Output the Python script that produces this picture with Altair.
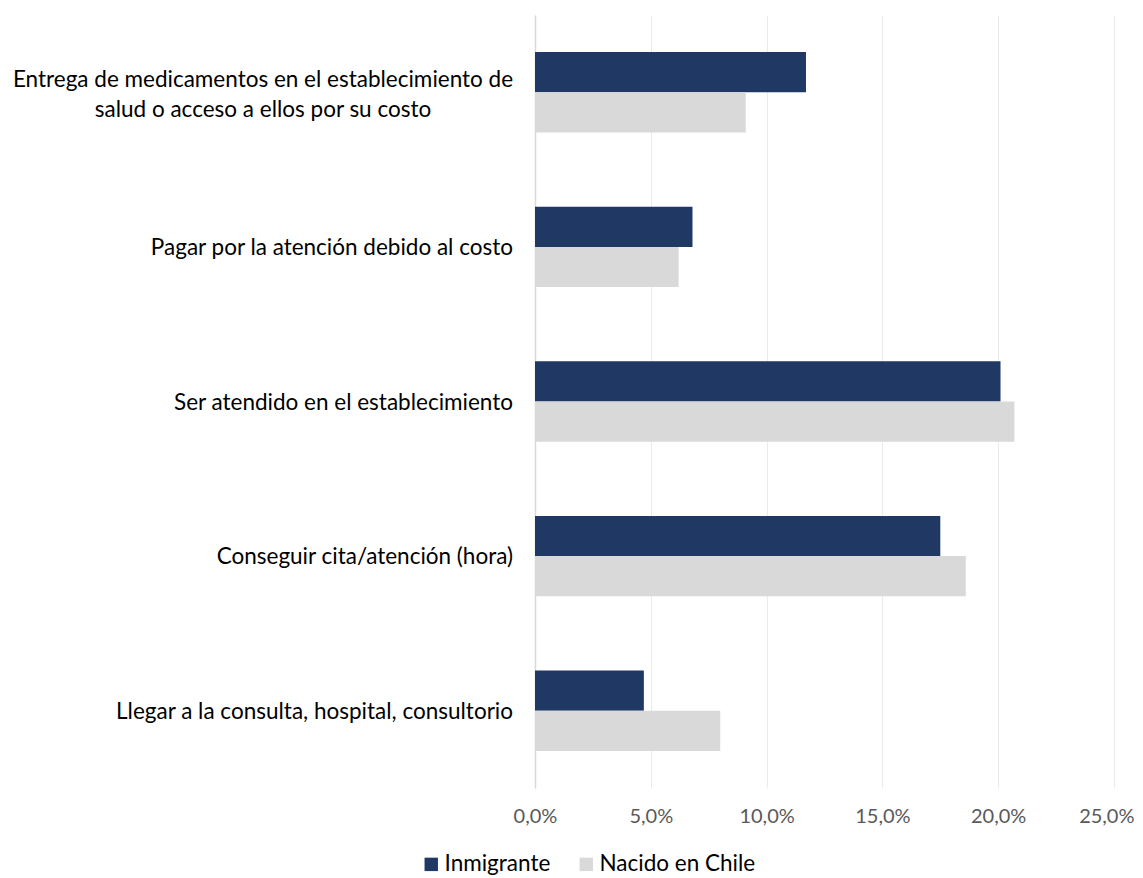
import altair as alt
import pandas as pd

categories = [
    "Entrega de medicamentos en el establecimiento de\nsalud o acceso a ellos por su costo",
    "Pagar por la atención debido al costo",
    "Ser atendido en el establecimiento",
    "Conseguir cita/atención (hora)",
    "Llegar a la consulta, hospital, consultorio",
]
series = ["Inmigrante", "Nacido en Chile"]
inmigrante = [11.7, 6.8, 20.1, 17.5, 4.7]
nacido = [9.1, 6.2, 20.7, 18.6, 8.0]
centered = [True, False, False, False, False]

colors = ["#203864", "#D9D9D9"]
FONT = "Lato"

rows = []
for c, a, b in zip(categories, inmigrante, nacido):
    rows.append({"cat": c, "serie": series[0], "val": a})
    rows.append({"cat": c, "serie": series[1], "val": b})
df = pd.DataFrame(rows)
lab = pd.DataFrame({"cat": categories, "centered": centered})

yscale = alt.Scale(domain=categories, paddingInner=0.48, paddingOuter=0.24)

bars = alt.Chart(df).mark_bar().encode(
    y=alt.Y("cat:N", scale=yscale, sort=categories,
            axis=alt.Axis(title=None, labels=False, ticks=False, domain=True,
                          domainColor="#D9D9D9", domainWidth=1.5, grid=False)),
    yOffset=alt.YOffset("serie:N", sort=series),
    x=alt.X("val:Q", scale=alt.Scale(domain=[0, 25]),
            axis=alt.Axis(title=None, values=[0, 5, 10, 15, 20, 25],
                          labelExpr="replace(format(datum.value, '.1f'), '.', ',') + '%'",
                          ticks=False, tickSize=0, domain=False, grid=True,
                          gridColor="#EBEBEB", gridWidth=1, labelFlush=False,
                          labelAlign=alt.condition("datum.value == 25", alt.value("right"), alt.value("center")),
                          labelOffset=alt.condition("datum.value == 25", alt.value(20), alt.value(0)),
                          labelColor="#595959", labelFontSize=20, labelFont=FONT,
                          labelPadding=18)),
    color=alt.Color("serie:N", scale=alt.Scale(domain=series, range=colors),
                    legend=alt.Legend(title=None, orient="none", direction="horizontal",
                                      legendX=-115, legendY=838,
                                      symbolType="square", symbolSize=180,
                                      symbolStrokeWidth=0, labelFontSize=22.5,
                                      labelFont=FONT, labelColor="#000000",
                                      columnPadding=24, padding=0, labelOffset=2)),
)

right_labels = alt.Chart(lab).transform_filter("!datum.centered").mark_text(
    align="right", baseline="middle", dx=-22, dy=1, fontSize=22.5, font=FONT,
    color="#000000", lineBreak="\n", lineHeight=30,
).encode(y=alt.Y("cat:N", scale=yscale, sort=categories), x=alt.value(0), text="cat:N")

center_labels = alt.Chart(lab).transform_filter("datum.centered").mark_text(
    align="center", baseline="middle", dx=-272, dy=-12, fontSize=22.5, font=FONT,
    color="#000000", lineBreak="\n", lineHeight=30,
).encode(y=alt.Y("cat:N", scale=yscale, sort=categories), x=alt.value(0), text="cat:N")

chart = alt.layer(bars, right_labels, center_labels).properties(
    width=579, height=773,
    autosize=alt.AutoSizeParams(type="none"),
    padding={"left": 527, "top": 7, "right": 21, "bottom": 92},
).configure_view(stroke=None)

chart.save("out.html", embed_options={"renderer": "svg", "actions": False})
